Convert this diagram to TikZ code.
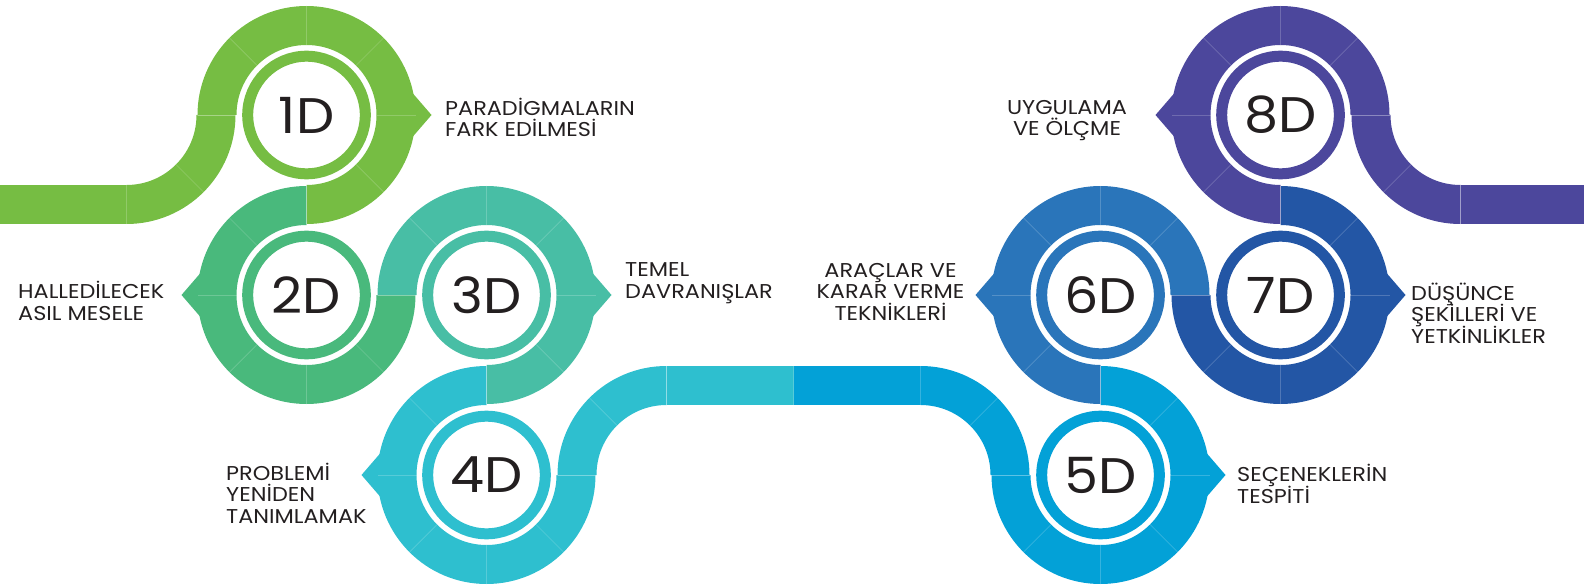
\documentclass[tikz,border=0pt]{standalone}
\usepackage{fontspec}
\setmainfont{Poppins}[FakeStretch=1.12]
\newfontfamily\numfont{Poppins}[FakeStretch=1.08]
\definecolor{g1}{HTML}{76BD43}
\definecolor{g2}{HTML}{49B97C}
\definecolor{g3}{HTML}{48BEA5}
\definecolor{g4}{HTML}{2EBFCF}
\definecolor{g5}{HTML}{03A1D7}
\definecolor{g6}{HTML}{2A75BA}
\definecolor{g7}{HTML}{2356A5}
\definecolor{g8}{HTML}{4C479C}
\definecolor{txt}{HTML}{231F20}
\newcommand\trackseg[4]{\fill[#1,shift={(#2)}] (#3:109) arc[start angle=#3,end angle=#4,radius=109] -- (#4:70) arc[start angle=#4,end angle=#3,radius=70] -- cycle;}
\newcommand\divs[2]{\foreach \a in {#2} \draw[divline,shift={(#1)}] (\a:70) -- (\a:109);}
\newcommand\pointer[3]{\fill[#1,shift={(#2)}] (#3+11.5:108.5) -- (#3:125) -- (#3-11.5:108.5) -- cycle;}
\begin{document}
\begin{tikzpicture}[x=1pt,y=1pt,
  divline/.style={white, opacity=0.2, line width=0.7pt},
  num/.style={circle, fill=white, line width=11pt, minimum size=117.6pt, inner sep=0pt, text=txt, font=\numfont\fontsize{50}{50}\selectfont},
  lbl/.style={inner sep=0pt, text=txt, font=\fontsize{20}{22}\selectfont}]
\useasboundingbox (0,0) rectangle (1584,-588);
\coordinate (c1) at (306.5,-115);
\coordinate (c2) at (306.5,-295);
\coordinate (c3) at (486.5,-295);
\coordinate (c4) at (486.5,-475);
\coordinate (c5) at (1100.5,-475);
\coordinate (c6) at (1100.5,-295);
\coordinate (c7) at (1280.5,-295);
\coordinate (c8) at (1280.5,-115);
\coordinate (q1) at (126.5,-115);
\coordinate (q4) at (666.5,-475);
\coordinate (q5) at (920.5,-475);
\coordinate (q8) at (1460.5,-115);
% straight parts of the track
\fill[g1] (0,-185) rectangle (126.5,-224);
\fill[g4] (666.5,-366) rectangle (793.5,-405);
\fill[g5] (793.5,-366) rectangle (920.5,-405);
\fill[g8] (1460.5,-185) rectangle (1584,-224);
% curved parts
\trackseg{g1}{q1}{-90}{0}
\trackseg{g1}{c1}{180}{-90}
\trackseg{g2}{c2}{90}{360}
\trackseg{g3}{c3}{180}{-90}
\trackseg{g4}{c4}{90}{360}
\trackseg{g4}{q4}{180}{90}
\trackseg{g5}{q5}{90}{0}
\trackseg{g5}{c5}{180}{450}
\trackseg{g6}{c6}{270}{0}
\trackseg{g7}{c7}{180}{450}
\trackseg{g8}{c8}{270}{0}
\trackseg{g8}{q8}{180}{270}
% pointers
\pointer{g1}{c1}{0}
\pointer{g2}{c2}{180}
\pointer{g3}{c3}{0}
\pointer{g4}{c4}{180}
\pointer{g5}{c5}{0}
\pointer{g6}{c6}{180}
\pointer{g7}{c7}{0}
\pointer{g8}{c8}{180}
% segment dividers
\divs{c1}{180,135,90,45,0,-45,-90}
\divs{q1}{-90,-45,0}
\divs{c2}{90,135,180,225,270,315,360}
\divs{c3}{180,135,90,45,0,-45,-90}
\divs{c4}{90,135,180,225,270,315,360}
\divs{q4}{180,135,90}
\divs{q5}{90,45,0}
\divs{c5}{180,225,270,315,360,405,450}
\divs{c6}{0,45,90,135,180,225,270}
\divs{c7}{180,225,270,315,360,405,450}
\divs{c8}{0,45,90,135,180,225,270}
\divs{q8}{180,225,270}
\draw[divline] (793.5,-366) -- (793.5,-405);
% step discs
\node[num, draw=g1] (n1) at (c1) {1D};
\node[num, draw=g2] (n2) at (c2) {2D};
\node[num, draw=g3] (n3) at (c3) {3D};
\node[num, draw=g4] (n4) at (c4) {4D};
\node[num, draw=g5] (n5) at (c5) {5D};
\node[num, draw=g6] (n6) at (c6) {6D};
\node[num, draw=g7] (n7) at (c7) {7D};
\node[num, draw=g8] (n8) at (c8) {8D};
% labels
\node[lbl, anchor=base west] (t1a) at (445,-116) {PARADİGMALARIN};
\node[lbl, anchor=base west] (t1b) at (445,-137) {FARK EDİLMESİ};
\node[lbl, anchor=base west] (t2a) at (18,-298) {HALLEDİLECEK};
\node[lbl, anchor=base west] (t2b) at (18,-320) {ASIL MESELE};
\node[lbl, anchor=base west] (t3a) at (625,-276) {TEMEL};
\node[lbl, anchor=base west] (t3b) at (625,-298) {DAVRANIŞLAR};
\node[lbl, anchor=base west] (t4a) at (226,-480) {PROBLEMİ};
\node[lbl, anchor=base west] (t4b) at (226,-501.7) {YENİDEN};
\node[lbl, anchor=base west] (t4c) at (226,-523.3) {TANIMLAMAK};
\node[lbl, anchor=base west] (t5a) at (1237,-481.7) {SEÇENEKLERİN};
\node[lbl, anchor=base west] (t5b) at (1237,-503.3) {TESPİTİ};
\node[lbl, anchor=base] (t6a) at (890.5,-277) {ARAÇLAR VE};
\node[lbl, anchor=base] (t6b) at (890.5,-298.5) {KARAR VERME};
\node[lbl, anchor=base] (t6c) at (890.5,-320) {TEKNİKLERİ};
\node[lbl, anchor=base west] (t7a) at (1411,-300) {DÜŞÜNCE};
\node[lbl, anchor=base west] (t7b) at (1411,-321.7) {ŞEKİLLERİ VE};
\node[lbl, anchor=base west] (t7c) at (1411,-343.3) {YETKİNLİKLER};
\node[lbl, anchor=base] (t8a) at (1067,-115) {UYGULAMA};
\node[lbl, anchor=base] (t8b) at (1067,-136) {VE ÖLÇME};
\end{tikzpicture}
\end{document}
